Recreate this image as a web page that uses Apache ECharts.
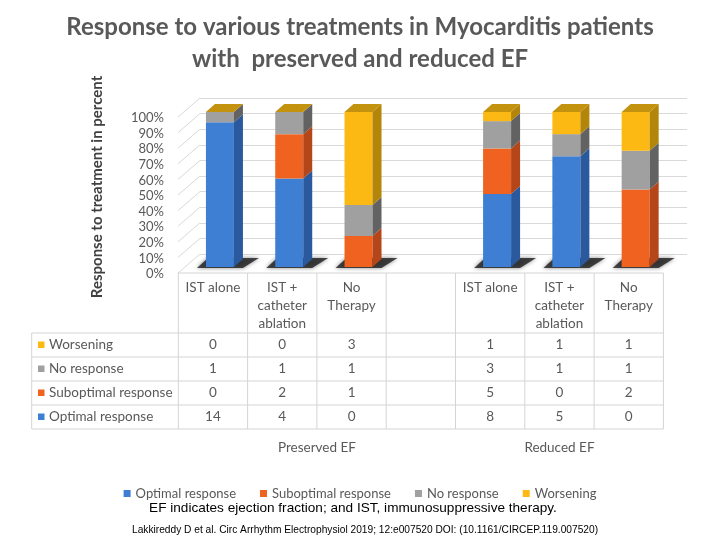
<!DOCTYPE html>
<html>
<head>
<meta charset="utf-8">
<title>Myocarditis treatment response</title>
<script src="https://cdn.jsdelivr.net/npm/echarts@6/dist/echarts.min.js"></script>
<style>
html,body{margin:0;padding:0;background:#fff;}
#main{width:720px;height:540px;}
</style>
</head>
<body>
<div id="main"></div>
<script>
// columns of the chart, the 4th one is the empty spacer between the two groups
var categories = ['IST alone', 'IST +\ncatheter\nablation', 'No\nTherapy', '', 'IST alone', 'IST +\ncatheter\nablation', 'No\nTherapy'];
var groups = ['Preserved EF', 'Reduced EF'];
var groupCols = [[0, 3], [4, 6]];
var seriesNames = ['Optimal response', 'Suboptimal response', 'No response', 'Worsening'];

// patient counts per column ('-' = spacer)
var optimal    = [14, 4, 0, '-', 8, 5, 0];
var suboptimal = [0, 2, 1, '-', 5, 0, 2];
var noResponse = [1, 1, 1, '-', 3, 1, 1];
var worsening  = [0, 0, 3, '-', 1, 1, 1];

var yMin = 0, yMax = 100, yStep = 10;

var frontColors = ['#3f7fd3', '#f0621f', '#a0a0a0', '#fdb913'];
var sideColors  = ['#2a5a9d', '#b4461a', '#626262', '#b38508'];
var topColor = '#c3920f';
var txt = '#595959';
var font = 'Lato';

var counts = [optimal, suboptimal, noResponse, worsening];

function total(i) {
    return optimal[i] + suboptimal[i] + noResponse[i] + worsening[i];
}
function pct(s, i) {
    if (optimal[i] === '-') return '-';
    return counts[s][i] / total(i) * 100;
}

// cumulative percent per column for the 3D faces
var cumData = [];
for (var i = 0; i < categories.length; i++) {
    if (optimal[i] === '-') continue;
    var row = [i, 0], acc = 0;
    for (var s = 0; s < 4; s++) {
        acc += pct(s, i);
        row.push(acc);
    }
    cumData.push(row);
}

var barW = 28, dx = 9, dy = 8;

function renderShadow(params, api) {
    var c = api.coord([api.value(0), 0]);
    var xl = c[0] - barW / 2, xr = c[0] + barW / 2, yb = c[1];
    return {
        type: 'polygon',
        shape: {points: [[xl - 9, yb + 1], [xr + dx, yb + 1], [xr + dx + 16, yb - dy - 1], [xl + 2, yb - dy - 1]]},
        style: {fill: 'rgba(30,30,30,0.8)', shadowBlur: 4, shadowColor: 'rgba(0,0,0,0.6)'}
    };
}

function renderSides(params, api) {
    var i = api.value(0);
    var cx = api.coord([i, 0])[0];
    var xl = cx - barW / 2, xr = cx + barW / 2;
    var children = [];
    for (var s = 0; s < 4; s++) {
        var y0 = api.coord([i, api.value(s + 1)])[1];
        var y1 = api.coord([i, api.value(s + 2)])[1];
        if (y0 - y1 < 0.05) continue;
        children.push({
            type: 'polygon',
            shape: {points: [[xr, y0], [xr + dx, y0 - dy], [xr + dx, y1 - dy], [xr, y1]]},
            style: {fill: sideColors[s]}
        });
    }
    var yt = api.coord([i, yMax])[1];
    children.push({
        type: 'polygon',
        shape: {points: [[xl, yt], [xr, yt], [xr + dx, yt - dy], [xl + dx, yt - dy]]},
        style: {fill: topColor}
    });
    return {type: 'group', children: children};
}

var series = [];
for (var s = 0; s < 4; s++) {
    var d = [];
    for (var i = 0; i < categories.length; i++) d.push(pct(s, i));
    series.push({
        name: seriesNames[s],
        type: 'bar',
        stack: 'total',
        barWidth: barW,
        xAxisIndex: 0,
        yAxisIndex: 0,
        itemStyle: {color: frontColors[s]},
        data: d,
        z: 2
    });
}
series.push({
    type: 'custom',
    renderItem: renderShadow,
    xAxisIndex: 0, yAxisIndex: 0,
    encode: {x: 0, y: 1},
    data: cumData,
    clip: false,
    silent: true,
    z: 1
});
series.push({
    type: 'custom',
    renderItem: renderSides,
    xAxisIndex: 0, yAxisIndex: 0,
    encode: {x: 0, y: 5},
    data: cumData,
    clip: false,
    silent: true,
    z: 3
});

var myChart = echarts.init(document.getElementById('main'));

var option = {
    backgroundColor: '#fff',
    animation: false,
    title: {
        text: 'Response to various treatments in Myocarditis patients\nwith  preserved and reduced EF',
        left: 'center',
        top: 6,
        textStyle: {fontFamily: font, fontSize: 24, fontWeight: 'bold', color: txt, lineHeight: 32}
    },
    legend: {
        data: seriesNames,
        left: 'center',
        top: 482,
        icon: 'rect',
        itemWidth: 7,
        itemHeight: 7,
        itemGap: 24,
        textStyle: {fontFamily: font, fontSize: 13, color: txt}
    },
    grid: [
        {left: 185.3, right: 49.7, top: 112, bottom: 273},   // bars
        {left: 200, right: 33, top: 98, bottom: 286},        // back wall
        {left: 178, right: 49.7, top: 118, bottom: 266}      // y labels
    ],
    xAxis: [
        {gridIndex: 0, type: 'category', data: categories, show: false},
        {gridIndex: 1, type: 'value', min: 0, max: 1, show: false},
        {gridIndex: 2, type: 'value', min: 0, max: 1, show: false}
    ],
    yAxis: [
        {gridIndex: 0, type: 'value', min: yMin, max: yMax, show: false},
        {
            gridIndex: 1, type: 'value', min: yMin, max: yMax, interval: yStep,
            axisLabel: {show: false}, axisLine: {show: false}, axisTick: {show: false},
            splitLine: {lineStyle: {color: '#d9d9d9', width: 1}}
        },
        {
            gridIndex: 2, type: 'value', min: yMin, max: yMax, interval: yStep,
            axisLine: {show: false}, axisTick: {show: false}, splitLine: {show: false},
            axisLabel: {formatter: '{value}%', margin: 14, fontFamily: font, fontSize: 13, color: txt}
        }
    ],
    series: series
};
myChart.setOption(option);

// side wall lines, data table, axis title and captions
var g = [];
var lineCol = '#d4d4d4';
for (var v = yMin; v <= yMax; v += yStep) {
    var yf = myChart.convertToPixel({yAxisIndex: 2}, v) - 1;
    var yb = myChart.convertToPixel({yAxisIndex: 1}, v);
    g.push({type: 'line', shape: {x1: 178, y1: yf, x2: 200, y2: yb}, style: {stroke: '#d9d9d9', lineWidth: 1}, silent: true});
}

var tLeft = 178.3, colW = 69.3, labLeft = 31.7;
var tTop = 273, headH = 60, rowH = 24;
var nCol = categories.length;
var tRight = tLeft + colW * nCol;
var rowsTop = tTop + headH;
var tBottom = rowsTop + rowH * 4;
var cellFont = '13.5px ' + font;

g.push({type: 'line', shape: {x1: tLeft, y1: tTop, x2: tRight, y2: tTop}, style: {stroke: lineCol}});
for (var r = 0; r <= 4; r++) {
    var yy = rowsTop + r * rowH;
    g.push({type: 'line', shape: {x1: labLeft, y1: yy, x2: tRight, y2: yy}, style: {stroke: lineCol}});
}
g.push({type: 'line', shape: {x1: labLeft, y1: rowsTop, x2: labLeft, y2: tBottom}, style: {stroke: lineCol}});
for (var c = 0; c <= nCol; c++) {
    var xx = tLeft + c * colW;
    g.push({type: 'line', shape: {x1: xx, y1: tTop, x2: xx, y2: tBottom}, style: {stroke: lineCol}});
}
for (var c = 0; c < nCol; c++) {
    g.push({
        type: 'text', x: tLeft + c * colW + colW / 2, y: tTop + 6,
        style: {text: categories[c], align: 'center', verticalAlign: 'top', lineHeight: 18,
                font: cellFont, fill: txt}
    });
}
// table rows go from Worsening down to Optimal response
for (var r = 0; r < 4; r++) {
    var s = 3 - r;
    var yc = rowsTop + r * rowH + rowH / 2;
    g.push({type: 'rect', shape: {x: 38, y: yc - 3.5, width: 6.5, height: 6.5}, style: {fill: frontColors[s]}});
    g.push({type: 'text', x: 49, y: yc, style: {text: seriesNames[s], align: 'left', verticalAlign: 'middle', font: cellFont, fill: txt}});
    for (var c = 0; c < nCol; c++) {
        if (counts[s][c] === '-') continue;
        g.push({type: 'text', x: tLeft + c * colW + colW / 2, y: yc,
                style: {text: String(counts[s][c]), align: 'center', verticalAlign: 'middle', font: cellFont, fill: txt}});
    }
}
for (var k = 0; k < groups.length; k++) {
    var gx = tLeft + (groupCols[k][0] + groupCols[k][1] + 1) / 2 * colW;
    g.push({type: 'text', x: gx, y: 448, style: {text: groups[k], align: 'center', verticalAlign: 'middle', font: cellFont, fill: txt}});
}

g.push({
    type: 'text', x: 97, y: 187, rotation: Math.PI / 2,
    style: {text: 'Response to treatment in percent', align: 'center', verticalAlign: 'middle',
            font: 'bold 15px ' + font, fill: '#404040'}
});
g.push({
    type: 'text', x: 353, y: 508,
    style: {text: 'EF indicates ejection fraction; and IST, immunosuppressive therapy.', align: 'center', verticalAlign: 'middle',
            font: '13.6px "Liberation Sans", Arial, sans-serif', fill: '#000'}
});
g.push({
    type: 'text', x: 365, y: 530,
    style: {text: 'Lakkireddy D et al. Circ Arrhythm Electrophysiol 2019; 12:e007520 DOI: (10.1161/CIRCEP.119.007520)', align: 'center', verticalAlign: 'middle',
            font: '10.2px "Liberation Sans", Arial, sans-serif', fill: '#000'}
});

myChart.setOption({graphic: {elements: g}});
</script>
</body>
</html>
